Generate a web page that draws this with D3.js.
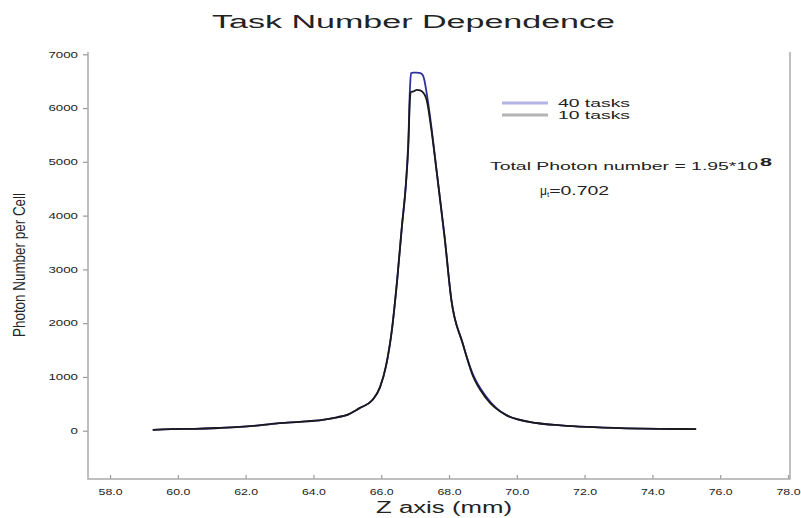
<!DOCTYPE html>
<html>
<head>
<meta charset="utf-8">
<script src="https://cdn.jsdelivr.net/npm/d3@7"></script>
<style>
    body { margin: 0; background: #fff; }
    text { font-family: Arial, "Liberation Sans", sans-serif; fill: #222; }
</style>
</head>
<body>
<svg id="chart" width="801" height="518"></svg>
<script>
/*global d3*/
"use strict";

// z position (mm), shared by both runs
var zPositions = [59.26, 59.8, 60.5, 61.2, 61.83, 62.4, 63.0, 63.6, 64.27, 64.7, 64.98, 65.36, 65.74,
    65.96, 66.14, 66.32, 66.47, 66.61, 66.73, 66.80, 66.85, 66.88, 66.95, 67.05, 67.15, 67.22, 67.28,
    67.34, 67.48, 67.63, 67.87, 68.07, 68.40, 68.69, 69.10, 69.69, 70.58, 71.3, 72.05, 73.23, 74.2, 75.29];

var tasks40 = [15, 30, 35, 50, 70, 100, 140, 165, 200, 250, 290, 420, 570,
    800, 1200, 1900, 2800, 3800, 4600, 5400, 6400, 6650, 6660, 6660, 6650, 6620, 6500,
    6280, 5650, 4850, 3600, 2430, 1630, 1070, 630, 290, 143, 100, 70, 45, 35, 30];

var tasks10 = [15, 30, 35, 50, 70, 100, 140, 165, 200, 250, 290, 420, 570,
    800, 1200, 1900, 2800, 3800, 4600, 5300, 6200, 6300, 6310, 6340, 6330, 6300, 6250,
    6150, 5600, 4850, 3600, 2430, 1630, 1040, 600, 290, 143, 100, 70, 45, 35, 30];

var seriesNames = ["40 tasks", "10 tasks"];
var seriesColors = ["#30309f", "#1a1a1a"];
var legendColors = ["#b4b4e6", "#b4b4b4"];

var xTicks = [58, 60, 62, 64, 66, 68, 70, 72, 74, 76, 78];
var yTicks = [0, 1000, 2000, 3000, 4000, 5000, 6000, 7000];

var svg = d3.select("#chart");

var x = d3.scaleLinear().domain([57.35, 78.0]).range([88, 788]);
var y = d3.scaleLinear().domain([0, 7000]).range([430.7, 54.3]);
var plotTop = 52, plotBottom = 479, plotRight = 790;

function drawAxes() {
    var yAxis = d3.axisLeft(y).tickValues(yTicks).tickSize(5).tickPadding(5)
        .tickFormat(d3.format("d"));
    var gy = svg.append("g").attr("transform", "translate(88,0)").call(yAxis);
    gy.select(".domain").remove();
    gy.selectAll(".tick line").attr("stroke", "#999").attr("stroke-width", 1.2);
    gy.selectAll(".tick text").attr("font-size", 8.5).attr("fill", "#333")
        .attr("textLength", function (d) { return String(d).length * 7.4; })
        .attr("lengthAdjust", "spacingAndGlyphs");

    var xAxis = d3.axisBottom(x).tickValues(xTicks).tickSize(-4).tickPadding(10)
        .tickFormat(d3.format(".1f"));
    var gx = svg.append("g").attr("transform", "translate(0," + plotBottom + ")").call(xAxis);
    gx.select(".domain").remove();
    gx.selectAll(".tick line").attr("stroke", "#999").attr("stroke-width", 1.2);
    gx.selectAll(".tick text").attr("font-size", 8.5).attr("fill", "#333")
        .attr("textLength", 24).attr("lengthAdjust", "spacingAndGlyphs");

    // frame: left, bottom and right lines
    svg.append("path")
        .attr("d", "M88," + plotTop + "V" + plotBottom + "H" + plotRight + "V" + plotTop)
        .attr("fill", "none").attr("stroke", "#aaa").attr("stroke-width", 1.5);
}

function drawLines() {
    var line = d3.line()
        .x(function (d) { return x(d[0]); })
        .y(function (d) { return y(d[1]); })
        .curve(d3.curveMonotoneX);
    [tasks40, tasks10].forEach(function (vals, i) {
        svg.append("path")
            .datum(zPositions.map(function (z, j) { return [z, vals[j]]; }))
            .attr("fill", "none")
            .attr("stroke", seriesColors[i])
            .attr("stroke-width", 1.8)
            .attr("d", line);
    });
}

function drawText() {
    svg.append("text").attr("x", 212).attr("y", 28).attr("font-size", 18)
        .attr("textLength", 403).attr("lengthAdjust", "spacingAndGlyphs")
        .text("Task Number Dependence");

    svg.append("text").attr("transform", "translate(25,265) rotate(-90)")
        .attr("text-anchor", "middle").attr("font-size", 16)
        .attr("textLength", 144).attr("lengthAdjust", "spacingAndGlyphs")
        .text("Photon Number per Cell");

    svg.append("text").attr("x", 376).attr("y", 513).attr("font-size", 16)
        .attr("textLength", 136).attr("lengthAdjust", "spacingAndGlyphs")
        .text("Z axis (mm)");

    // legend
    seriesNames.forEach(function (name, i) {
        var ly = 103 + i * 12;
        svg.append("line").attr("x1", 502).attr("x2", 548).attr("y1", ly).attr("y2", ly)
            .attr("stroke", legendColors[i]).attr("stroke-width", 3);
        svg.append("text").attr("x", 558).attr("y", ly + 4).attr("font-size", 11)
            .attr("textLength", 72).attr("lengthAdjust", "spacingAndGlyphs")
            .text(name);
    });

    var t = svg.append("text").attr("x", 490).attr("y", 170).attr("font-size", 11);
    t.append("tspan").attr("textLength", 268).attr("lengthAdjust", "spacingAndGlyphs")
        .text("Total Photon number = 1.95*10");
    t.append("tspan").attr("x", 760).attr("y", 166).attr("font-size", 10)
        .attr("font-weight", "bold").attr("textLength", 12).attr("lengthAdjust", "spacingAndGlyphs")
        .text("8");

    var m = svg.append("text").attr("x", 540).attr("y", 195).attr("font-size", 12);
    m.append("tspan").text("\u03bc");
    m.append("tspan").attr("dy", 2).attr("font-size", 8).text("t");
    m.append("tspan").attr("dy", -2).attr("textLength", 60).attr("lengthAdjust", "spacingAndGlyphs")
        .text("=0.702");
}

drawAxes();
drawLines();
drawText();
</script>
</body>
</html>
